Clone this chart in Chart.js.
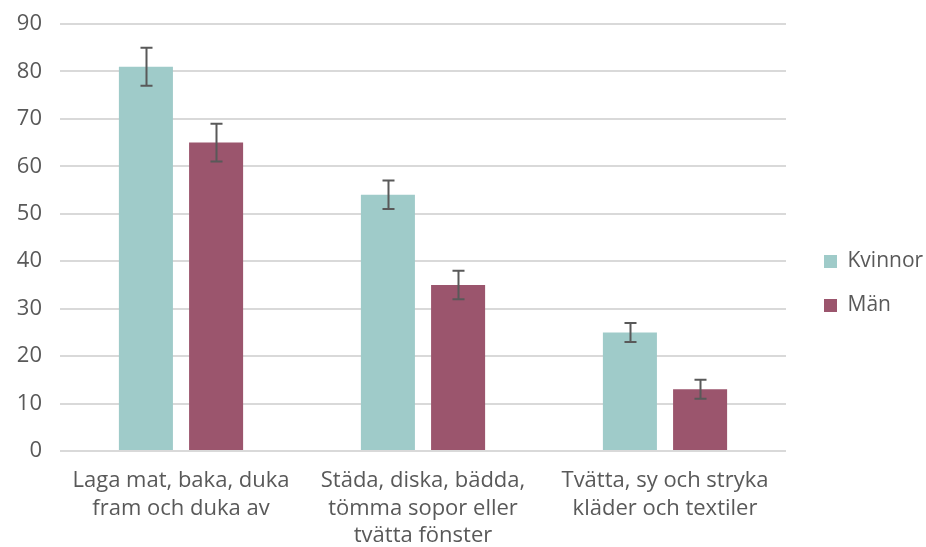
<!DOCTYPE html>
<html>
<head>
<meta charset="utf-8">
<script src="https://cdn.jsdelivr.net/npm/chart.js@4"></script>
<style>
  html, body { margin: 0; padding: 0; background: #fff; }
  #wrap { width: 926px; height: 547px; }
</style>
</head>
<body>
<div id="wrap"><canvas id="chart" width="926" height="547"></canvas></div>
<script>
const categories = [
    ['Laga mat, baka, duka', 'fram och duka av'],
    ['Städa, diska, bädda,', 'tömma sopor eller', 'tvätta fönster'],
    ['Tvätta, sy och stryka', 'kläder och textiler']
];
const kvinnor = [81, 54, 25];
const kvinnorErr = [4, 3, 2];
const man = [65, 35, 13];
const manErr = [4, 3, 2];

const textColor = '#595959';
const fontFamily = "'Open Sans', 'Lato', sans-serif";

// draws the error bars on top of each bar
const errorBars = {
    id: 'errorBars',
    afterDatasetsDraw(chart) {
        const ctx = chart.ctx;
        const yScale = chart.scales.y;
        ctx.save();
        ctx.strokeStyle = '#595959';
        ctx.lineWidth = 2;
        chart.data.datasets.forEach((ds, i) => {
            const meta = chart.getDatasetMeta(i);
            meta.data.forEach((bar, j) => {
                const v = ds.data[j];
                const e = ds.errors[j];
                const yTop = yScale.getPixelForValue(v + e);
                const yBot = yScale.getPixelForValue(v - e);
                const x = Math.round(bar.x) + 0.5;
                ctx.beginPath();
                ctx.moveTo(x, yTop);
                ctx.lineTo(x, yBot);
                ctx.moveTo(x - 6, yTop);
                ctx.lineTo(x + 6, yTop);
                ctx.moveTo(x - 6, yBot);
                ctx.lineTo(x + 6, yBot);
                ctx.stroke();
            });
        });
        ctx.restore();
    }
};

// keep the legend column at a fixed width and nudge it right/down
const legendWidth = {
    id: 'legendWidth',
    beforeLayout(chart) {
        const lg = chart.legend;
        if (lg && !lg._fixed) {
            const orig = lg.fit;
            lg.fit = function () {
                orig.call(this);
                this.width = 140;
            };
            lg._fixed = true;
        }
    },
    afterLayout(chart) {
        const lg = chart.legend;
        lg.left += 15;
        lg.right += 15;
        lg.top += 10;
        lg.bottom += 10;
    }
};

const ctx = document.getElementById('chart').getContext('2d');
new Chart(ctx, {
    type: 'bar',
    data: {
        labels: categories,
        datasets: [
            {
                label: 'Kvinnor',
                data: kvinnor,
                errors: kvinnorErr,
                backgroundColor: '#9fcbc9',
                categoryPercentage: 0.58,
                barPercentage: 0.77
            },
            {
                label: 'Män',
                data: man,
                errors: manErr,
                backgroundColor: '#9b556d',
                categoryPercentage: 0.58,
                barPercentage: 0.77
            }
        ]
    },
    options: {
        responsive: false,
        animation: false,
        layout: { padding: { top: 0, left: 0, right: 0, bottom: 0 } },
        plugins: {
            legend: {
                position: 'right',
                labels: {
                    boxWidth: 13,
                    boxHeight: 13,
                    padding: 23,
                    color: textColor,
                    font: { family: fontFamily, size: 21 }
                }
            },
            tooltip: { enabled: false }
        },
        scales: {
            x: {
                grid: { display: false },
                border: { display: false },
                afterFit(scale) { scale.height = 96; },
                ticks: {
                    color: textColor,
                    padding: 8,
                    maxRotation: 0,
                    font: { family: fontFamily, size: 22, lineHeight: 1.25 }
                }
            },
            y: {
                min: 0,
                max: 90,
                grid: { color: '#d9d9d9', lineWidth: 2, drawTicks: false },
                border: { display: false },
                afterFit(scale) {
                    scale.width = 60;
                    scale.paddingTop = 24;
                },
                ticks: {
                    stepSize: 10,
                    padding: 18,
                    color: textColor,
                    font: { family: fontFamily, size: 22 }
                }
            }
        }
    },
    plugins: [errorBars, legendWidth]
});
</script>
</body>
</html>
